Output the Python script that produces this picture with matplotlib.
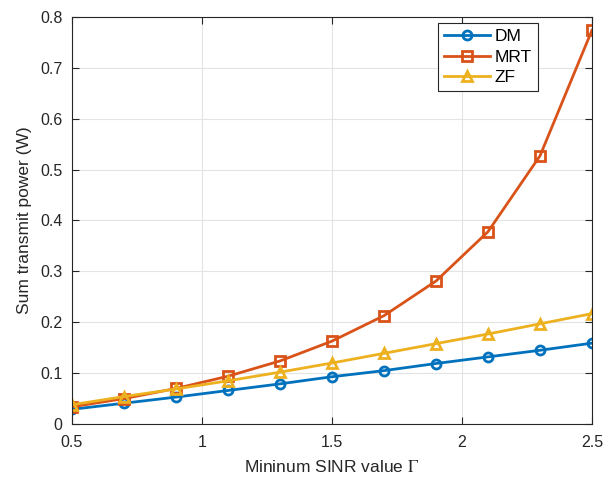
import numpy as np
import matplotlib.pyplot as plt

plt.rcParams['font.family'] = ['Liberation Sans', 'DejaVu Sans']
plt.rcParams['mathtext.fontset'] = 'stix'

gamma = [0.5, 0.7, 0.9, 1.1, 1.3, 1.5, 1.7, 1.9, 2.1, 2.3, 2.5]
dm = [0.029, 0.041, 0.053, 0.066, 0.079, 0.093, 0.105, 0.119, 0.132, 0.145, 0.159]
mrt = [0.034, 0.050, 0.070, 0.094, 0.124, 0.163, 0.213, 0.281, 0.378, 0.527, 0.774]
zf = [0.038, 0.054, 0.069, 0.085, 0.102, 0.120, 0.139, 0.158, 0.177, 0.197, 0.217]

fig = plt.figure(figsize=(6.05, 4.83), dpi=100)
ax = fig.add_axes([0.119, 0.122, 0.8595, 0.843])

ax.plot(gamma, dm, '-o', color=(0, 0.447, 0.741), lw=2, ms=6.5, mfc='none', mew=2, label='DM')
ax.plot(gamma, mrt, '-s', color=(0.85, 0.325, 0.098), lw=2, ms=6.5, mfc='none', mew=2, label='MRT')
ax.plot(gamma, zf, '-^', color=(0.929, 0.694, 0.125), lw=2, ms=7.5, mfc='none', mew=2, label='ZF')

ax.set_xlim(0.5, 2.5)
ax.set_ylim(0, 0.8)
ax.set_xticks([0.5, 1, 1.5, 2, 2.5])
ax.set_xticklabels(['0.5', '1', '1.5', '2', '2.5'])
ax.set_yticks(np.arange(0, 0.81, 0.1))
ax.set_yticklabels(['0', '0.1', '0.2', '0.3', '0.4', '0.5', '0.6', '0.7', '0.8'])
ax.grid(True, color='#e3e3e3', lw=0.8)
ax.set_axisbelow(True)
ax.tick_params(direction='in', top=True, right=True, length=5, labelsize=11.5, colors='#262626')
ax.tick_params(axis='x', pad=8)
ax.tick_params(axis='y', pad=7)
for s in ax.spines.values():
    s.set_color('#262626')
    s.set_linewidth(0.8)

ax.set_xlabel('Mininum SINR value $\\Gamma$', fontsize=12.5, color='#262626', labelpad=6)
ax.set_ylabel('Sum transmit power (W)', fontsize=12.5, color='#262626', labelpad=6)

leg = ax.legend(loc='upper right', bbox_to_anchor=(0.896, 0.985), borderaxespad=0,
                fontsize=12.5, fancybox=False, edgecolor='#262626', framealpha=1,
                handlelength=2.6, borderpad=0.35, labelspacing=0.3, handletextpad=0.3)
leg.get_frame().set_linewidth(0.8)

fig.savefig('out.png')
